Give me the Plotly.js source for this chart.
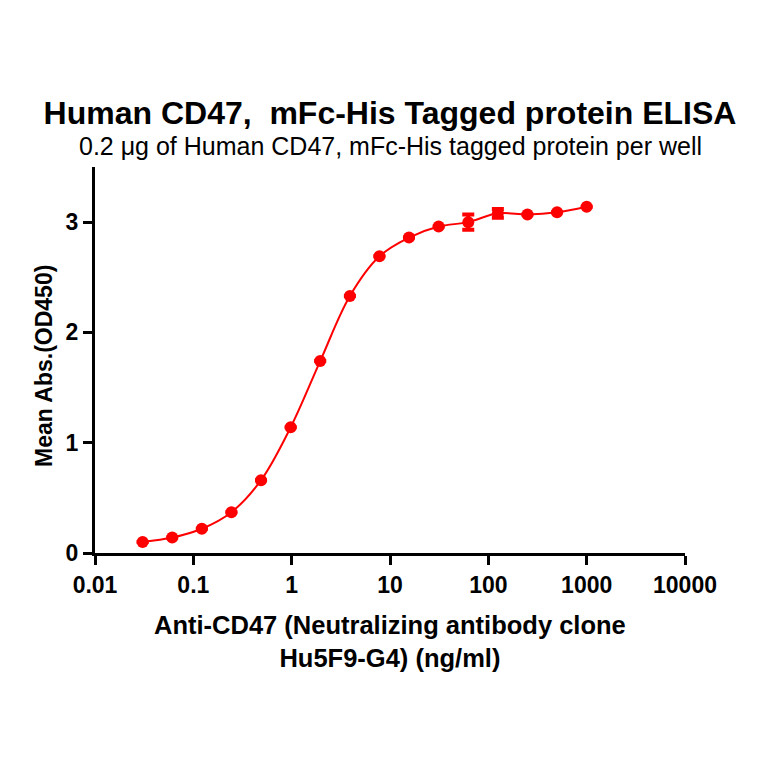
<!DOCTYPE html>
<html>
<head>
<meta charset="utf-8">
<script src="https://cdn.plot.ly/plotly-3.0.1.min.js"></script>
<style>html,body{margin:0;padding:0;background:#fff;}#chart{width:764px;height:764px;}</style>
</head>
<body>
<div id="chart"></div>
<script>
// Concentration of Anti-CD47 (ng/ml), 2-fold dilutions
var conc = [0.0305, 0.061, 0.122, 0.244, 0.488, 0.977, 1.95, 3.91, 7.81, 15.6, 31.25, 62.5, 125, 250, 500, 1000];
// Mean absorbance at 450 nm
var meanAbs = [0.10, 0.14, 0.22, 0.37, 0.66, 1.14, 1.74, 2.33, 2.69, 2.86, 2.96, 3.00, 3.08, 3.07, 3.09, 3.14];
// Error (replicate spread)
var errAbs = [0, 0, 0, 0, 0, 0, 0, 0, 0, 0, 0, 0.07, 0.04, 0, 0, 0];
var xTicks = [0.01, 0.1, 1, 10, 100, 1000, 10000];
var xTickText = ['0.01', '0.1', '1', '10', '100', '1000', '10000'];
var yTicks = [0, 1, 2, 3];

var red = '#ff0000';
var fontFam = 'Liberation Sans, Arial, sans-serif';

var traces = [
  {
    x: conc, y: meanAbs, type: 'scatter', mode: 'lines',
    line: {color: red, width: 2, shape: 'spline', smoothing: 1},
    hoverinfo: 'skip'
  },
  {
    x: conc, y: meanAbs, type: 'scatter', mode: 'markers',
    marker: {color: red, size: 12, symbol: 'circle'},
    error_y: {type: 'data', array: errAbs, visible: true, color: red, thickness: 4, width: 6}
  }
];

var layout = {
  width: 764, height: 764,
  paper_bgcolor: '#fff', plot_bgcolor: '#fff',
  showlegend: false,
  margin: {l: 95, r: 79, t: 167, b: 211},
  font: {family: fontFam, color: '#000'},
  title: {
    text: '<b>Human CD47,  mFc-His Tagged protein ELISA</b>',
    font: {size: 32, family: fontFam, color: '#000'},
    x: 390/764, xanchor: 'center', xref: 'container',
    y: 1 - 113/764, yanchor: 'middle', yref: 'container'
  },
  xaxis: {
    type: 'log', range: [-2, 4],
    tickvals: xTicks, ticktext: xTickText,
    showgrid: false, zeroline: false,
    showline: true, linecolor: '#000', linewidth: 3,
    ticks: 'outside', ticklen: 9, tickwidth: 3, tickcolor: '#000',
    tickfont: {size: 23, family: fontFam, color: '#000', weight: 'bold'},
    fixedrange: true
  },
  yaxis: {
    range: [0, 3.5],
    tickvals: yTicks,
    showgrid: false, zeroline: false,
    showline: true, linecolor: '#000', linewidth: 3,
    ticks: 'outside', ticklen: 9, tickwidth: 3, tickcolor: '#000',
    tickfont: {size: 23, family: fontFam, color: '#000', weight: 'bold'},
    fixedrange: true
  },
  annotations: [
    {
      text: '0.2 μg of Human CD47, mFc-His tagged protein per well',
      xref: 'paper', yref: 'paper', x: 0.5, y: 1 + (167-146)/386,
      xanchor: 'center', yanchor: 'middle', showarrow: false,
      font: {size: 25, family: fontFam, color: '#000'}
    },
    {
      text: '<b>Anti-CD47 (Neutralizing antibody clone<br>Hu5F9-G4) (ng/ml)</b>',
      xref: 'paper', yref: 'paper', x: 0.5, y: -(641-553)/386,
      xanchor: 'center', yanchor: 'middle', showarrow: false,
      font: {size: 25.5, family: fontFam, color: '#000'}
    },
    {
      text: '<b>Mean Abs.(OD450)</b>',
      xref: 'paper', yref: 'paper', x: (44-95)/590, y: (553-366)/386,
      xanchor: 'center', yanchor: 'middle', showarrow: false, textangle: -90,
      font: {size: 23, family: fontFam, color: '#000'}
    }
  ]
};

Plotly.newPlot('chart', traces, layout, {displayModeBar: false, staticPlot: true});
</script>
</body>
</html>
